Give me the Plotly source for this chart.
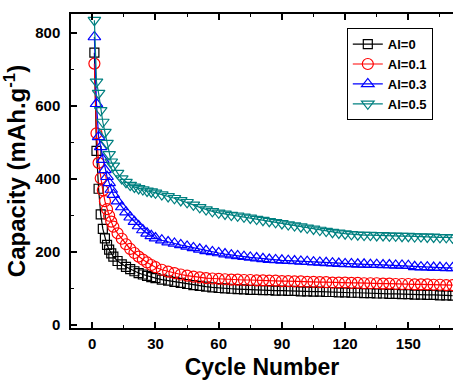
import plotly.graph_objects as go

cycles = [1, 2, 3, 4, 5, 6, 7, 8, 9, 10,
          12, 14, 16, 18, 20, 22, 24, 26, 28, 30,
          33, 36, 39, 42, 45, 48, 51, 54, 57, 60,
          63, 66, 69, 72, 75, 78, 81, 84, 87, 90,
          93, 96, 99, 102, 105, 108, 111, 114, 117, 120,
          123, 126, 129, 132, 135, 138, 141, 144, 147, 150,
          153, 156, 159, 162, 165, 168, 171]

al0 = [745, 476, 372, 302, 262, 236, 218, 205, 195, 186,
       174, 165, 158, 152, 146, 141, 137, 133, 130, 127,
       123, 120, 117, 114, 111, 108, 106, 104, 102, 100,
       99, 98, 97, 96, 95, 95, 94, 94, 93, 93,
       92, 92, 91, 91, 90, 90, 89, 89, 88, 88,
       87, 87, 86, 86, 85, 85, 84, 84, 83, 83,
       82, 82, 81, 81, 80, 80, 79]

al01 = [715, 524, 443, 401, 368, 338, 316, 298, 282, 268,
        250, 235, 220, 207, 196, 186, 178, 170, 163, 157,
        150, 145, 141, 137, 134, 131, 129, 127, 126, 125,
        124, 123, 123, 122, 122, 121, 121, 120, 120, 119,
        119, 118, 118, 117, 117, 116, 116, 115, 115, 115,
        114, 114, 113, 113, 113, 112, 112, 111, 111, 111,
        110, 110, 110, 109, 109, 108, 108]

al03 = [788, 605, 514, 487, 452, 424, 405, 388, 370, 356,
        338, 322, 308, 294, 282, 270, 259, 250, 243, 237,
        231, 226, 222, 218, 214, 210, 206, 202, 199, 196,
        193, 190, 188, 186, 184, 182, 180, 178, 177, 176,
        175, 174, 173, 172, 171, 170, 169, 168, 167, 166,
        166, 165, 165, 164, 164, 163, 163, 162, 162, 161,
        158, 157, 157, 156, 156, 155, 155]

al05 = [834, 665, 634, 587, 555, 527, 497, 466, 446, 435,
        415, 400, 390, 382, 377, 373, 370, 366, 364, 361,
        356, 351, 346, 340, 335, 328, 321, 315, 310, 306,
        303, 300, 298, 295, 292, 289, 286, 283, 280, 277,
        274, 271, 268, 265, 262, 259, 256, 253, 251, 249,
        247, 246, 245, 245, 244, 244, 243, 243, 242, 242,
        241, 241, 240, 240, 239, 239, 238]

names = ["Al=0", "Al=0.1", "Al=0.3", "Al=0.5"]
series = [al0, al01, al03, al05]
colors = ["#000000", "#ff0000", "#0000ff", "#008080"]
symbols = ["square-open", "circle-open", "triangle-up-open", "triangle-down-open"]
sizes = [9, 11, 11, 11]

fig = go.Figure()
for n, s, c, sym, sz in zip(names, series, colors, symbols, sizes):
    fig.add_trace(go.Scatter(
        x=cycles, y=s, name=n, mode="lines+markers",
        line=dict(color=c, width=1.2),
        marker=dict(symbol=sym, size=sz, color=c, line=dict(width=1.2, color=c)),
        cliponaxis=True,
    ))

font = "Liberation Sans, Arial, sans-serif"
fig.update_layout(
    width=453, height=380,
    margin=dict(l=71, r=0, t=14, b=52),
    paper_bgcolor="white", plot_bgcolor="white",
    font=dict(family=font, color="black"),
    showlegend=True,
    legend=dict(
        x=0.722, y=0.955, xanchor="left", yanchor="top",
        bgcolor="white", bordercolor="black", borderwidth=1,
        font=dict(family=font, size=13, color="black", weight="bold"),
        tracegroupgap=0, itemwidth=30,
    ),
)
fig.update_xaxes(
    range=[-10.1, 171.2], tickmode="array",
    tickvals=[0, 30, 60, 90, 120, 150],
    ticks="inside", ticklen=6, tickwidth=1.5, tickcolor="black",
    minor=dict(tickvals=[15, 45, 75, 105, 135, 165], ticks="inside", ticklen=3, tickcolor="black", tickwidth=1.2),
    showline=True, linecolor="black", linewidth=1.5, mirror="ticks",
    showgrid=False, zeroline=False,
    tickfont=dict(family=font, size=15, color="black", weight="bold"),
    ticklabelstandoff=1,
    title=dict(text="Cycle Number", font=dict(family=font, size=23, color="black", weight="bold"), standoff=9),
)
fig.update_yaxes(
    range=[-9.6, 851], tickmode="array",
    tickvals=[0, 200, 400, 600, 800],
    ticks="inside", ticklen=6, tickwidth=1.5, tickcolor="black",
    minor=dict(tickvals=[100, 300, 500, 700], ticks="inside", ticklen=3, tickcolor="black", tickwidth=1.2),
    showline=True, linecolor="black", linewidth=1.5, mirror=False,
    showgrid=False, zeroline=False,
    tickfont=dict(family=font, size=15, color="black", weight="bold"),
    ticklabelstandoff=6,
    title=dict(text="Capacity (mAh.g<sup>-1</sup>)", font=dict(family=font, size=24, color="black", weight="bold"), standoff=8),
)

fig.write_html("out.html")
